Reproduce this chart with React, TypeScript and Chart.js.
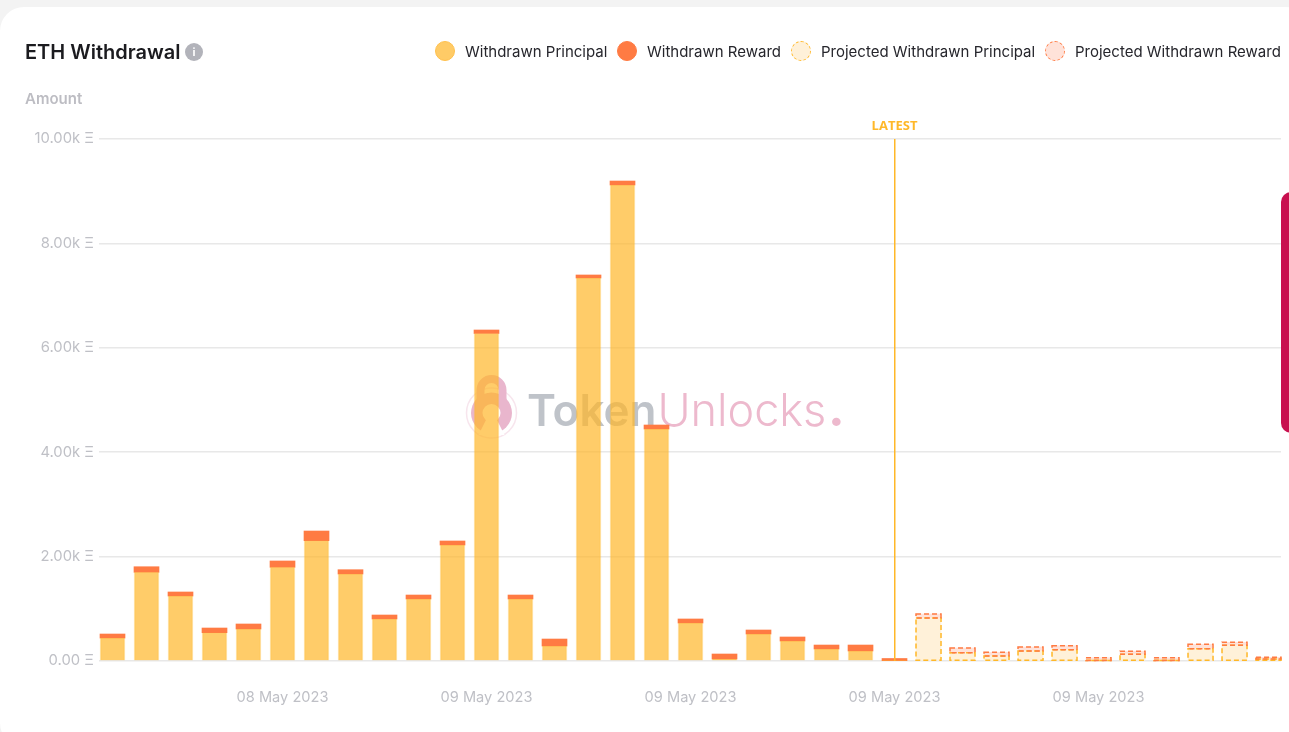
import React, { useEffect, useRef } from "react";
import { Chart, registerables } from "chart.js";

Chart.register(...registerables);

// one entry per bar, 35 time slots
const withdrawnPrincipal = [440, 1699, 1245, 542, 613, 1795, 2305, 1667, 805, 1188, 2222, 6274, 1188, 287, 7337, 9119, 4444, 728, 38, 517, 383, 230, 192, 5];
const withdrawnReward = [77, 107, 77, 90, 96, 121, 185, 82, 76, 76, 77, 67, 76, 134, 58, 76, 77, 77, 96, 77, 77, 76, 114, 43];
const projectedPrincipal = [824, 159, 96, 192, 216, 10, 128, 10, 236, 300, 40];
const projectedReward = [76, 90, 71, 76, 77, 53, 58, 53, 84, 58, 30];

const latestSlot = 23;
const yTicks = [0, 2000, 4000, 6000, 8000, 10000];
const dateTicks = [5, 11, 17, 23, 29];
const dateLabels = ["08 May 2023", "09 May 2023", "09 May 2023", "09 May 2023", "09 May 2023"];
const legendItems = [
  { label: "Withdrawn Principal", fill: "#FFCB66", border: "1px solid #FFC04D", left: 435 },
  { label: "Withdrawn Reward", fill: "#FF7B43", border: "1px solid #FF7B43", left: 617 },
  { label: "Projected Withdrawn Principal", fill: "#FFF1D9", border: "1px dashed #FFB829", left: 791 },
  { label: "Projected Withdrawn Reward", fill: "#FFE2D9", border: "1px dashed #FF7B43", left: 1045 },
];

const labels = [...withdrawnPrincipal, ...projectedPrincipal].map((_, i) => i);
const blanks = withdrawnPrincipal.map(() => null);
const fontFamily = "Inter, sans-serif";

const watermark = {
  id: "watermark",
  beforeDatasetsDraw(chart: any) {
    const ctx = chart.ctx;
    ctx.save();
    const cx = 491.5;
    const cy = 413;
    ctx.strokeStyle = "rgba(233,180,204,0.35)";
    ctx.lineWidth = 1.5;
    ctx.beginPath();
    ctx.arc(cx, cy, 25, 0, Math.PI * 2);
    ctx.stroke();
    ctx.fillStyle = "#E9B6CD";
    ctx.beginPath();
    ctx.arc(cx, cy, 20.5, 0, Math.PI * 2);
    ctx.fill();
    ctx.strokeStyle = "#E9B6CD";
    ctx.lineWidth = 8;
    ctx.beginPath();
    ctx.moveTo(cx - 11, cy - 10);
    ctx.arc(cx, cy - 23, 11, Math.PI, 0);
    ctx.lineTo(cx + 11, cy - 10);
    ctx.stroke();
    ctx.fillStyle = "#fff";
    ctx.beginPath();
    ctx.arc(cx, cy, 9, 0, Math.PI * 2);
    ctx.fill();
    ctx.beginPath();
    ctx.moveTo(cx - 5, cy + 6);
    ctx.lineTo(cx + 5, cy + 6);
    ctx.lineTo(cx + 13, cy + 22);
    ctx.lineTo(cx - 13, cy + 22);
    ctx.closePath();
    ctx.fill();

    ctx.textBaseline = "alphabetic";
    ctx.textAlign = "left";
    ctx.font = "600 44px Inter, sans-serif";
    ctx.fillStyle = "#BFC3C9";
    ctx.fillText("Token", 527, 426);
    const w = ctx.measureText("Token").width;
    ctx.font = "300 45px Inter, sans-serif";
    ctx.fillStyle = "#EDB9CD";
    ctx.fillText("Unlocks", 528 + w, 426);
    const w2 = ctx.measureText("Unlocks").width;
    ctx.font = "800 46px Inter, sans-serif";
    ctx.fillText(".", 530 + w + w2, 426);
    ctx.restore();
  },
};

// Chart.js bars have no dash option, so the projected outlines go on top
const dashedBars = {
  id: "dashedBars",
  afterDatasetsDraw(chart: any) {
    const ctx = chart.ctx;
    chart.data.datasets.forEach((ds: any, i: number) => {
      if (!ds.dashColor) return;
      chart.getDatasetMeta(i).data.forEach((bar: any, j: number) => {
        if (ds.data[j] == null) return;
        const { x, y, base, width } = bar.getProps(["x", "y", "base", "width"], true);
        ctx.save();
        ctx.strokeStyle = ds.dashColor;
        ctx.lineWidth = 1.5;
        ctx.setLineDash([5, 3]);
        ctx.strokeRect(x - width / 2, y, width, base - y);
        ctx.restore();
      });
    });
  },
};

const latestLine = {
  id: "latestLine",
  afterDatasetsDraw(chart: any) {
    const ctx = chart.ctx;
    const x = chart.scales.x.getPixelForValue(latestSlot);
    const { top, bottom } = chart.chartArea;
    ctx.save();
    ctx.fillStyle = "#FFB829";
    ctx.fillRect(Math.floor(x), top, 1.5, bottom - top);
    ctx.font = "700 13px 'Open Sans', sans-serif";
    ctx.textAlign = "center";
    ctx.textBaseline = "alphabetic";
    ctx.fillText("LATEST", x, top - 9);
    ctx.restore();
  },
};

function WithdrawalChart() {
  const canvasRef = useRef<HTMLCanvasElement>(null);

  useEffect(() => {
    if (!canvasRef.current) return;
    const chart = new Chart(canvasRef.current, {
      type: "bar",
      data: {
        labels,
        datasets: [
          {
            label: "Withdrawn Principal",
            data: withdrawnPrincipal,
            backgroundColor: "rgba(255,182,41,0.7)",
            borderColor: "rgba(255,182,41,0.3)",
            borderWidth: { left: 1, right: 1, top: 0, bottom: 0 },
          },
          {
            label: "Withdrawn Reward",
            data: withdrawnReward,
            backgroundColor: "#FF7B43",
            borderWidth: 0,
          },
          {
            label: "Projected Withdrawn Principal",
            data: [...blanks, ...projectedPrincipal],
            backgroundColor: "#FFF1D9",
            borderWidth: 0,
            dashColor: "#FFB829",
          },
          {
            label: "Projected Withdrawn Reward",
            data: [...blanks, ...projectedReward],
            backgroundColor: "#FFE2D9",
            borderWidth: 0,
            dashColor: "#FF7B43",
          },
        ] as any,
      },
      options: {
        animation: false,
        responsive: false,
        layout: { padding: { top: 139, right: 8, bottom: 0, left: 0 } },
        datasets: { bar: { barThickness: 25 } },
        plugins: { legend: { display: false }, tooltip: { enabled: false } },
        scales: {
          x: {
            type: "linear",
            stacked: true,
            offset: false,
            min: -0.397,
            max: 34.367,
            grid: { display: false },
            border: { display: false },
            afterBuildTicks: (axis: any) => {
              axis.ticks = dateTicks.map((value) => ({ value }));
            },
            afterFit: (axis: any) => {
              axis.height = 71;
            },
            ticks: {
              autoSkip: false,
              maxRotation: 0,
              padding: 20,
              color: "#BFC0C6",
              font: { family: fontFamily, size: 14.6 },
              callback: (value: any) => dateLabels[dateTicks.indexOf(value)],
            },
          },
          y: {
            stacked: true,
            min: 0,
            max: 10000,
            grid: { color: "#E8E8E8", lineWidth: 1.5, drawTicks: false },
            border: { display: false },
            afterBuildTicks: (axis: any) => {
              axis.ticks = yTicks.map((value) => ({ value }));
            },
            afterFit: (axis: any) => {
              axis.width = 99;
            },
            ticks: {
              padding: 5,
              color: "#BFC0C6",
              font: { family: fontFamily, size: 14.8 },
              callback: (value: any) =>
                value === 0 ? "0.00 Ξ" : `${(value / 1000).toFixed(2)}k Ξ`,
            },
          },
        },
      },
      plugins: [watermark, dashedBars, latestLine],
    });
    return () => chart.destroy();
  }, []);

  return <canvas ref={canvasRef} width={1289} height={732} style={{ display: "block" }} />;
}

export default function App() {
  return (
    <div style={{ position: "fixed", inset: 0, width: 1289, height: 732, overflow: "hidden", background: "#F3F3F3", fontFamily }}>
      <div style={{ position: "absolute", left: 0, top: 7, width: 1310, height: 740, background: "#fff", borderRadius: 24 }} />
      <div style={{ position: "absolute", left: 0, top: 0 }}>
        <WithdrawalChart />
      </div>
      <div style={{ position: "absolute", left: 25, top: 40, fontSize: 20, fontWeight: 600, lineHeight: "24px", color: "#1B1B1F", whiteSpace: "nowrap" }}>
        ETH Withdrawal
      </div>
      <div style={{ position: "absolute", left: 185, top: 43, width: 18, height: 18, borderRadius: 9, background: "#B2B3BA", color: "#fff", fontSize: 11, fontWeight: 700, lineHeight: "18px", textAlign: "center" }}>
        i
      </div>
      <div style={{ position: "absolute", left: 25, top: 90, fontSize: 15, fontWeight: 600, lineHeight: "18px", color: "#BDBDC3" }}>
        Amount
      </div>
      {legendItems.map((item) => (
        <div key={item.label} style={{ position: "absolute", left: item.left, top: 41, height: 20, display: "flex", alignItems: "center", whiteSpace: "nowrap" }}>
          <span style={{ width: 20, height: 20, boxSizing: "border-box", borderRadius: 10, background: item.fill, border: item.border, marginRight: 10 }} />
          <span style={{ fontSize: 15, color: "#26262C" }}>{item.label}</span>
        </div>
      ))}
      <div style={{ position: "absolute", left: 1281, top: 192, width: 20, height: 241, background: "#C8104F", borderRadius: 10 }} />
    </div>
  );
}
